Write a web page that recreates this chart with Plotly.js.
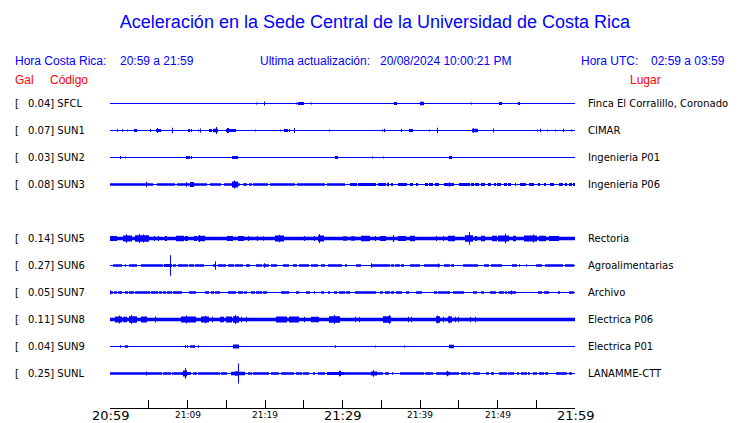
<!DOCTYPE html>
<html><head><meta charset="utf-8">
<script src="https://cdn.plot.ly/plotly-3.0.1.min.js"></script>
<style>html,body{margin:0;padding:0;background:#fff;}#chart{width:740px;height:423px;}</style>
</head><body><div id="chart"></div>
<script>
// ---------------- data ----------------
const codes  = ['SFCL','SUN1','SUN2','SUN3','SUN5','SUN6','SUN7','SUN8','SUN9','SUNL'];
const rowIdx = [0,1,2,3,5,6,7,8,9,10];
const galMax = [0.04,0.07,0.03,0.08,0.14,0.27,0.05,0.11,0.04,0.25];
const places = ['Finca El Corralillo, Coronado','CIMAR','Ingenieria P01','Ingenieria P06','Rectoria',
                'Agroalimentarias','Archivo','Electrica P06','Electrica P01','LANAMME-CTT'];
// background noise half-amplitude (relative units) per station
const noiseFloor = [0,0,0,0,1.7,0,0,1.8,0,0];

// events per station: [startMin, endMin, amp] or [min, amp]  (minutes after 20:59)
const SFCL = [[18.9,1],[19.9,2],[24.1,1],[24.3,25.0,1.5],[26.0,1],[36.7,37.0,1.5],[40.1,40.5,1.7],[46.7,1],[50.2,50.5,1.5],[52.65,52.9,1.5]];
const SUN1 = [[0.95,1.2],[1.59,1.2],[2.24,1],[3.1,3.44,1.5],[5.25,1.5],[6.02,6.54,1.5],[6.15,2.5],[8.04,2.7],[10.1,10.32,1.5],[10.58,1.5],[11.44,1],[11.7,2],[12.9,13.1,1.5],[13.3,13.9,1.7],[13.68,3.5],[15.0,16.13,1.5],[15.1,2.5],[15.3,2.5],[18.75,1],[22.0,1],[22.58,22.92,1.5],[23.2,1.5],[23.78,2.5],[28.3,1],[35.2,1],[35.4,1.7],[37.6,1.5],[38.7,39.05,1.5],[41.2,1],[42.2,2.7],[46.8,47.45,1.7],[46.9,2.3],[49.46,2],[55.14,1],[55.5,1.7],[56.4,1],[57.5,1],[58.5,1.7],[59.5,1]];
const SUN2 = [[1.33,1.5],[2.0,1],[9.85,10.2,1.5],[10.5,1.5],[15.87,16.4,1.5],[29.16,29.4,1.5],[33.85,1],[35.27,1],[43.8,44.1,1.5]];
const SUN3 = [[0.0,5.5,1.3],[6.1,8.3,1.3],[8.7,12.5,1.3],[12.95,14.3,1.3],[14.75,16.7,1.3],[17.2,17.6,1.3],[18.0,18.2,1.3],[18.5,20.35,1.3],[20.7,23.8,1.3],[24.2,27.65,1.3],[28.05,30.3,1.3],
  [4.69,2.7],[9.9,2.3],[10.45,10.75,2.5],[15.83,16.43,3],[16.08,4],
  [30.97,31.83,1.4],[32.05,33.77,1.4],[33.9,34.32,1.4],[34.67,35.53,1.4],[35.79,35.96,1.7],[36.35,36.43,1.4],[37.2,38.28,1.4],[38.71,39.05,1.4],[39.57,39.66,1.4],[40.77,40.95,1.4],[41.29,41.63,1.4],[42.06,42.41,1.4],[43.1,44.3,1.4],[43.87,2.3],[45.07,46.36,1.4],[46.67,46.88,1.4],[47.1,47.53,1.4],[47.96,48.3,1.4],[48.82,49.12,1.4],[49.55,49.8,1.4],[50.06,50.41,1.4],[50.88,51.18,1.4],[51.48,51.7,1.4],[52.3,52.38,1.4],[53.03,53.59,1.4],[54.1,54.7,1.4],[55.27,55.48,1.4],[56.0,56.25,1.4],[56.9,57.2,1.4],[58.06,58.4,1.4],[58.75,58.96,1.4],[59.26,59.61,1.4],[59.87,60,1.4]];
const SUN5 = [[0.0,0.86,2.5],[1.72,2.8,3],[2.15,4.3],[3.23,4.95,3.3],[3.87,4.5],[4.3,4],[5.72,2.5],[6.24,2.5],[7.1,7.3,2.5],[8.6,9.46,2.7],[9.68,10.02,2.5],[10.88,11.18,2.5],[11.4,12.17,2.7],[11.6,3.5],[15.18,15.82,2.5],[16.56,17.24,2.5],[17.85,2.5],[19.05,2.5],[19.87,2.3],[21.3,22.36,3],[21.93,3.7],[25.07,2.5],[26.36,2.5],[26.96,27.52,3],[27.09,4.5],[30.1,30.54,2.3],[31.2,31.6,2.3],[32.48,33.46,2.7],[34.2,2.5],[34.84,35.5,2.5],[36.56,3.5],[37.2,38.07,2.5],[38.71,39.23,2.7],[42.15,2.5],[43.0,2.5],[43.66,44.39,2.7],[45.93,46.8,3.3],[46.36,6.3],[47.1,47.3,2.5],[47.96,48.26,2.7],[49.37,49.89,2.7],[50.1,51.4,3],[51.05,4.7],[52.04,52.34,2.7],[53.46,55.05,3],[54.7,4],[55.48,56.13,2.7],[56.77,57.85,2.5]];
const SUN6 = [[0.43,1.5,1.3],[1.94,2.02,1.3],[2.58,3.44,1.3],[4.0,5.16,1.3],[5.29,6.15,1.3],[6.32,6.75,1.3],[6.97,7.95,1.5],[7.78,10.3],[8.17,8.47,1.3],[8.9,9.98,1.3],[10.32,10.75,1.3],[10.97,12.04,1.3],[13.33,13.55,1.3],[13.59,4.2],[14.06,14.92,1.3],[15.27,15.91,1.3],[16.21,17.07,1.3],[17.63,18.02,1.3],[18.92,19.57,1.3],[19.78,20.43,1.3],[19.91,2.3],[20.86,21.5,1.3],[22.36,23.0,1.3],[23.65,24.08,1.3],[24.43,24.94,1.3],[25.16,25.67,1.3],[26.02,26.79,1.3],[27.31,27.74,1.3],[28.17,29.67,1.3],
  [29.68,29.9,1.3],[30.33,30.54,1.3],[31.83,32.26,1.3],[33.77,2.3],[33.9,36.04,1.3],[36.35,36.56,1.3],[36.9,37.33,1.3],[37.64,37.85,1.3],[38.8,39.92,1.3],[40.52,41.08,1.3],[41.29,42.58,1.3],[42.37,2],[43.1,43.78,1.3],[44.09,44.3,1.3],[45.59,46.36,1.3],[46.54,47.4,1.3],[48.3,48.86,1.3],[49.25,49.63,1.3],[49.8,50.49,1.3],[51.95,52.47,1.3],[52.9,1.3],[53.76,1.3],[55.05,55.7,1.3],[56.25,56.68,1.3],[56.86,58.4,1.3],[58.75,59.26,1.3],[59.44,59.78,1.3]];
const SUN7 = [[0.0,0.3,1.3],[0.1,2],[0.56,0.86,1.3],[1.08,1.5,1.3],[1.94,2.28,1.3],[2.58,3.01,1.3],[3.23,3.66,1.3],[3.87,5.16,1.3],[5.38,6.15,1.3],[6.45,6.67,1.3],[6.88,7.18,1.3],[7.44,7.96,1.3],[8.17,9.25,1.3],[10.32,10.97,1.3],[12.26,12.69,1.3],[13.12,13.33,1.3],[13.55,14.19,1.3],[15.27,16.13,1.3],[16.56,17.07,1.3],[17.4,17.63,1.3],[18.28,18.7,1.3],[18.92,19.57,1.3],[19.78,20.21,1.3],[22.15,23.0,1.3],[24.08,24.38,1.3],[25.37,25.8,1.3],[26.45,1.3],[27.31,27.52,1.3],[28.17,28.38,1.3],[28.94,29.24,1.3],[29.67,29.97,1.3],
  [29.68,30.2,1.3],[30.54,30.88,1.3],[31.62,33.98,1.3],[34.11,34.32,1.3],[34.84,35.18,1.3],[35.61,36.04,1.3],[36.35,36.56,1.3],[36.99,37.64,1.3],[38.28,38.5,1.3],[39.57,40.22,1.3],[41.85,42.15,1.3],[42.37,42.8,1.3],[42.92,43.23,1.3],[43.44,43.87,1.3],[44.3,45.07,1.3],[45.25,45.59,1.3],[46.88,47.31,1.3],[47.96,48.17,1.3],[49.12,49.68,1.3],[50.23,50.75,1.3],[50.97,51.18,1.3],[51.4,52.26,1.3],[51.83,2],[55.27,55.7,1.3],[56.0,56.13,1.3],[56.34,56.56,1.3],[57.85,58.06,1.3],[59.26,59.78,1.3]];
const SUN8 = [[0.65,1.5,3],[1.29,4],[1.72,2.15,2.8],[2.58,3.44,3.3],[2.8,4.5],[4.09,4.73,3],[5.89,3],[9.25,10.1,3],[9.89,4],[10.32,10.97,3],[11.83,12.69,3],[12.26,3.8],[13.2,2.8],[14.32,14.62,2.8],[15.05,15.7,3],[15.91,16.56,3.3],[16.21,4.5],[16.99,2.8],[17.63,2.8],[21.5,22.8,3],[23.22,24.3,3],[25.16,2.8],[26.02,26.88,2.8],[28.38,29.67,3.3],[29.0,4.5],
  [31.74,2.8],[32.17,2.5],[35.27,36.13,3.3],[36.0,4.5],[38.5,2.8],[38.93,2.8],[42.15,42.58,3.3],[42.28,4],[43.0,2.8],[43.66,44.09,3],[43.87,3.8],[44.52,2.8],[44.95,2.8],[46.58,2.8],[47.1,2.8]];
const SUN9 = [[1.33,1.2],[2.0,2.28,1.3],[9.68,1.3],[10.02,1.3],[10.45,10.88,1.3],[11.4,1.3],[15.91,16.56,2],[29.16,1.3],[34.2,1],[37.98,1],[43.87,44.3,1.7]];
const SUNL = [[0.0,1.5,1.3],[1.63,2.28,1.3],[2.45,4.52,1.3],[4.6,6.67,1.3],[4.73,2],[6.88,7.87,1.3],[8.04,9.16,1.3],[9.25,10.45,1.5],[9.46,9.89,3],[9.68,5.3],[10.75,11.18,1.3],[11.48,12.26,1.3],[12.47,14.19,1.3],[14.4,15.05,1.3],[15.7,17.4,1.7],[16.13,16.56,2.3],[16.56,10],[17.85,18.28,1.3],[18.5,20.43,1.3],[20.86,21.2,1.3],[21.37,21.72,1.3],[22.15,23.65,1.3],[24.08,24.73,1.3],[24.94,25.59,1.3],[26.23,26.45,1.3],[26.88,27.74,1.3],[28.08,30.1,1.5],[29.67,3],[29.77,2.5],
  [30.2,30.75,1.3],[30.88,31.62,1.3],[31.83,32.69,1.3],[32.9,33.77,1.3],[33.77,34.41,2],[33.98,3.3],[34.41,35.18,1.3],[35.49,1.3],[35.7,35.92,1.3],[36.47,1.3],[37.42,38.71,1.3],[38.93,40.43,1.3],[40.77,41.08,1.3],[41.29,41.63,1.3],[42.15,43.23,1.3],[43.36,43.79,1.8],[43.53,2.7],[43.87,44.52,1.3],[44.73,44.95,1.3],[45.38,46.02,1.3],[46.24,46.45,1.3],[46.88,47.53,1.3],[47.74,1.3],[48.6,48.82,1.3],[49.25,49.46,1.3],[50.32,51.18,1.3],[51.4,51.7,1.3],[51.83,52.04,1.3],[52.56,52.69,1.3],[53.12,53.76,1.3],[53.98,54.19,1.3],[54.62,55.05,1.3],[55.48,55.91,1.3],[56.13,56.43,1.3],[57.63,57.85,1.3],[58.06,58.49,1.3],[58.7,58.92,1.3],[59.26,59.56,1.3]];
const stationEvents = [SFCL,SUN1,SUN2,SUN3,SUN5,SUN6,SUN7,SUN8,SUN9,SUNL];

const tickMinutes = [0,5,10,15,20,25,30,35,40,45,50,55,60];
const labelMinutes = [0,10,20,30,40,50,60];
const labelText = ['20:59','21:09','21:19','21:29','21:39','21:49','21:59'];
const labelMajor = [true,false,false,true,false,false,true];

// ---------------- layout geometry ----------------
const W = 740, H = 423;
const PL = 110, PR = 575, AXIS_Y = 408;
const ROW0 = 103.5, ROW_STEP = 27;
const BLUE = '#0000ff', RED = '#ff0000';
const yTop = -ROW0 / ROW_STEP, yBot = (AXIS_Y - ROW0) / ROW_STEP;
const px2x = p => (p - PL) / (PR - PL);
const py2y = p => (AXIS_Y - p) / AXIS_Y;

// ---------------- traces ----------------
const NB = 465, dt = 60 / NB;
function envelope(ev, floor) {
  const e = new Array(NB).fill(Math.max(floor, 0.55));
  ev.forEach(v => {
    const t0 = v[0], t1 = v.length === 3 ? v[1] : v[0], a = v[v.length - 1];
    const i0 = Math.max(0, Math.floor(t0 / dt));
    const i1 = Math.min(NB - 1, Math.max(i0, Math.floor(t1 / dt)));
    for (let i = i0; i <= i1; i++) e[i] = Math.max(e[i], a);
  });
  return e;
}
const traces = codes.map((c, k) => {
  const e = envelope(stationEvents[k], noiseFloor[k]);
  const r = rowIdx[k];
  const xs = [], ys = [];
  for (let i = 0; i < NB; i++) { const y = r - e[i] / ROW_STEP; xs.push(i * dt, (i + 1) * dt); ys.push(y, y); }
  for (let i = NB - 1; i >= 0; i--) { const y = r + e[i] / ROW_STEP; xs.push((i + 1) * dt, i * dt); ys.push(y, y); }
  return {x: xs, y: ys, type: 'scatter', mode: 'lines', fill: 'toself', fillcolor: BLUE,
          line: {width: 0, color: BLUE, simplify: false}, hoverinfo: 'skip', showlegend: false, name: c};
});

// ---------------- annotations ----------------
const ann = [];
function txt(text, px, py, color, size, family, anchor) {
  ann.push({text, x: px2x(px), y: py2y(py), xref: 'paper', yref: 'paper', showarrow: false,
            xanchor: anchor || 'left', yanchor: 'middle', font: {color, size, family}});
}
const HF = 'Liberation Sans, Arial, sans-serif', DF = 'DejaVu Sans, sans-serif';
txt('Hora Costa Rica:', 13, 61, BLUE, 12, HF);
txt('20:59 a 21:59', 118, 61, BLUE, 12, HF);
txt('Ultima actualización:', 258, 61, BLUE, 12, HF);
txt('20/08/2024 10:00:21 PM', 378, 61, BLUE, 12, HF);
txt('Hora UTC:', 579, 61, BLUE, 12, HF);
txt('02:59 a 03:59', 649, 61, BLUE, 12, HF);
txt('Gal', 13, 80.5, RED, 12, HF);
txt('Código', 48, 80.5, RED, 12, HF);
txt('Lugar', 628, 80.5, RED, 12, HF);
codes.forEach((c, k) => {
  const py = ROW0 + ROW_STEP * rowIdx[k];
  txt('[', 13, py, '#000', 10, DF);
  txt(galMax[k].toFixed(2) + '] ' + c, 25.5, py, '#000', 10, DF);
  txt(places[k], 585.5, py, '#000', 10, DF);
});
labelMinutes.forEach((m, i) => {
  ann.push({text: labelText[i], x: m, xref: 'x', y: py2y(labelMajor[i] ? 415 : 414.5), yref: 'paper',
            showarrow: false, xanchor: 'center', yanchor: 'middle',
            font: {size: labelMajor[i] ? 13 : 9, color: '#000', family: DF}});
});

const layout = {
  width: W, height: H,
  margin: {l: PL, r: W - PR, t: 0, b: H - AXIS_Y, pad: 0},
  paper_bgcolor: '#fff', plot_bgcolor: '#fff',
  title: {text: 'Aceleración en la Sede Central de la Universidad de Costa Rica',
          x: 375 / W, xanchor: 'center', y: 1 - 22 / H, yanchor: 'middle',
          font: {family: HF, size: 18, color: BLUE}},
  xaxis: {range: [0, 60], showgrid: false, zeroline: false, showline: true, linecolor: '#000', linewidth: 1,
          ticks: 'inside', ticklen: 8, tickwidth: 1, tickcolor: '#000', tickvals: tickMinutes,
          showticklabels: false, fixedrange: true},
  yaxis: {range: [yBot, yTop], visible: false, showgrid: false, zeroline: false, fixedrange: true},
  annotations: ann, showlegend: false
};
Plotly.newPlot('chart', traces, layout, {staticPlot: true, displayModeBar: false});
</script></body></html>
